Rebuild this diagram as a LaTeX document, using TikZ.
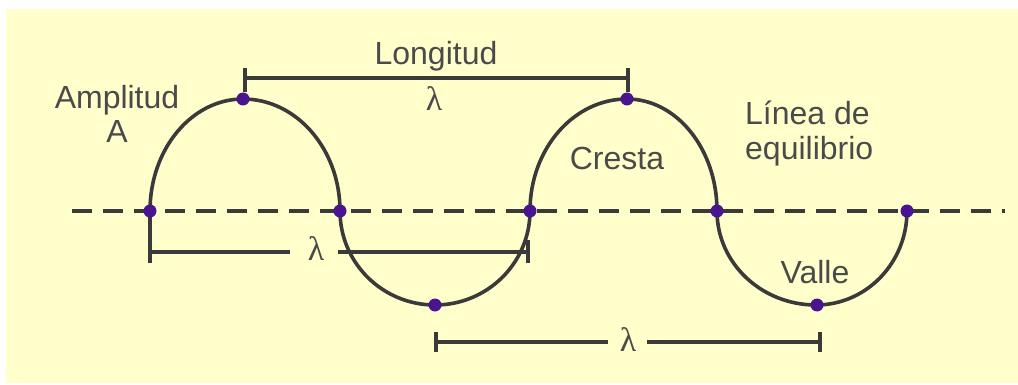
\documentclass[tikz,border=0pt]{standalone}
\usepackage{fontspec}
\setmainfont{Liberation Sans}
\newfontfamily\lamfont{Liberation Serif}
\definecolor{bgyellow}{HTML}{FFFFCC}
\definecolor{linegray}{HTML}{3A3A3A}
\definecolor{textgray}{HTML}{4A4A4A}
\definecolor{dotpurple}{HTML}{4A1490}
\begin{document}
\begin{tikzpicture}[x=1pt,y=-1pt,
  wave/.style={draw=linegray,line width=3.6pt},
  axisline/.style={draw=linegray,line width=4pt,dash pattern=on 20pt off 11pt},
  bar/.style={draw=linegray,line width=3.4pt},
  dot/.style={circle,fill=dotpurple,inner sep=0pt,minimum size=13pt},
  lbl/.style={text=textgray,font=\fontsize{32}{36}\selectfont,inner sep=0pt,anchor=base},
  lam/.style={text=textgray,font=\lamfont\fontsize{34}{36}\selectfont,inner sep=0pt,anchor=base}]
\useasboundingbox (0,0) rectangle (1018,385);
\fill[white] (0,0) rectangle (1018,385);
\fill[bgyellow] (6,9) rectangle (1018,383);
% equilibrium line
\coordinate (axL) at (72,211);
\coordinate (axR) at (1005,211);
\draw[axisline] (axL) -- (axR);
% wave
\draw[wave] (150,211) arc[start angle=180,end angle=270,x radius=93,y radius=112]
  arc[start angle=270,end angle=360,x radius=97,y radius=112]
  arc[start angle=180,end angle=90,x radius=95,y radius=94]
  arc[start angle=90,end angle=0,x radius=95,y radius=94]
  arc[start angle=180,end angle=270,x radius=97,y radius=112]
  arc[start angle=270,end angle=360,x radius=90,y radius=112]
  arc[start angle=180,end angle=90,x radius=99,y radius=94]
  arc[start angle=90,end angle=0,x radius=91,y radius=94];
% dimension bars
\coordinate (t1a) at (245,68); \coordinate (t1b) at (245,92);
\coordinate (t2a) at (628,68); \coordinate (t2b) at (628,92);
\coordinate (tl) at (245,78); \coordinate (tr) at (628,78);
\draw[bar] (t1a) -- (t1b); \draw[bar] (t2a) -- (t2b); \draw[bar] (tl) -- (tr);
\coordinate (m1a) at (150,211); \coordinate (m1b) at (150,263);
\coordinate (m2a) at (528,240); \coordinate (m2b) at (528,263);
\coordinate (ml) at (150,252); \coordinate (mg1) at (290,252);
\coordinate (mg2) at (338,252); \coordinate (mr) at (528,252);
\draw[bar] (m1a) -- (m1b); \draw[bar] (m2a) -- (m2b);
\draw[bar] (ml) -- (mg1); \draw[bar] (mg2) -- (mr);
\coordinate (b1a) at (436,332); \coordinate (b1b) at (436,352);
\coordinate (b2a) at (820,332); \coordinate (b2b) at (820,352);
\coordinate (bl) at (436,342); \coordinate (bg1) at (608,342);
\coordinate (bg2) at (647,342); \coordinate (br) at (820,342);
\draw[bar] (b1a) -- (b1b); \draw[bar] (b2a) -- (b2b);
\draw[bar] (bl) -- (bg1); \draw[bar] (bg2) -- (br);
% dots
\node[dot] (z1) at (150,211) {};
\node[dot] (z2) at (340,211) {};
\node[dot] (z3) at (530,211) {};
\node[dot] (z4) at (717,211) {};
\node[dot] (z5) at (907,211) {};
\node[dot] (c1) at (243,99) {};
\node[dot] (c2) at (627,99) {};
\node[dot] (v1) at (435,305) {};
\node[dot] (v2) at (817,305) {};
% labels
\node[lbl] (longitud) at (436,65) {Longitud};
\node[lam] (lam1) at (434,111) {λ};
\node[lam] (lam2) at (316,260) {λ};
\node[lam] (lam3) at (628,351) {λ};
\node[lbl] (amp) at (117,109) {Amplitud};
\node[lbl] (ampA) at (117,143) {A};
\node[lbl] (cresta) at (617,170) {Cresta};
\node[lbl,anchor=base west] (linea) at (745,125) {Línea de};
\node[lbl,anchor=base west] (equil) at (745,160) {equilibrio};
\node[lbl] (valle) at (815,283) {Valle};
\end{tikzpicture}
\end{document}
